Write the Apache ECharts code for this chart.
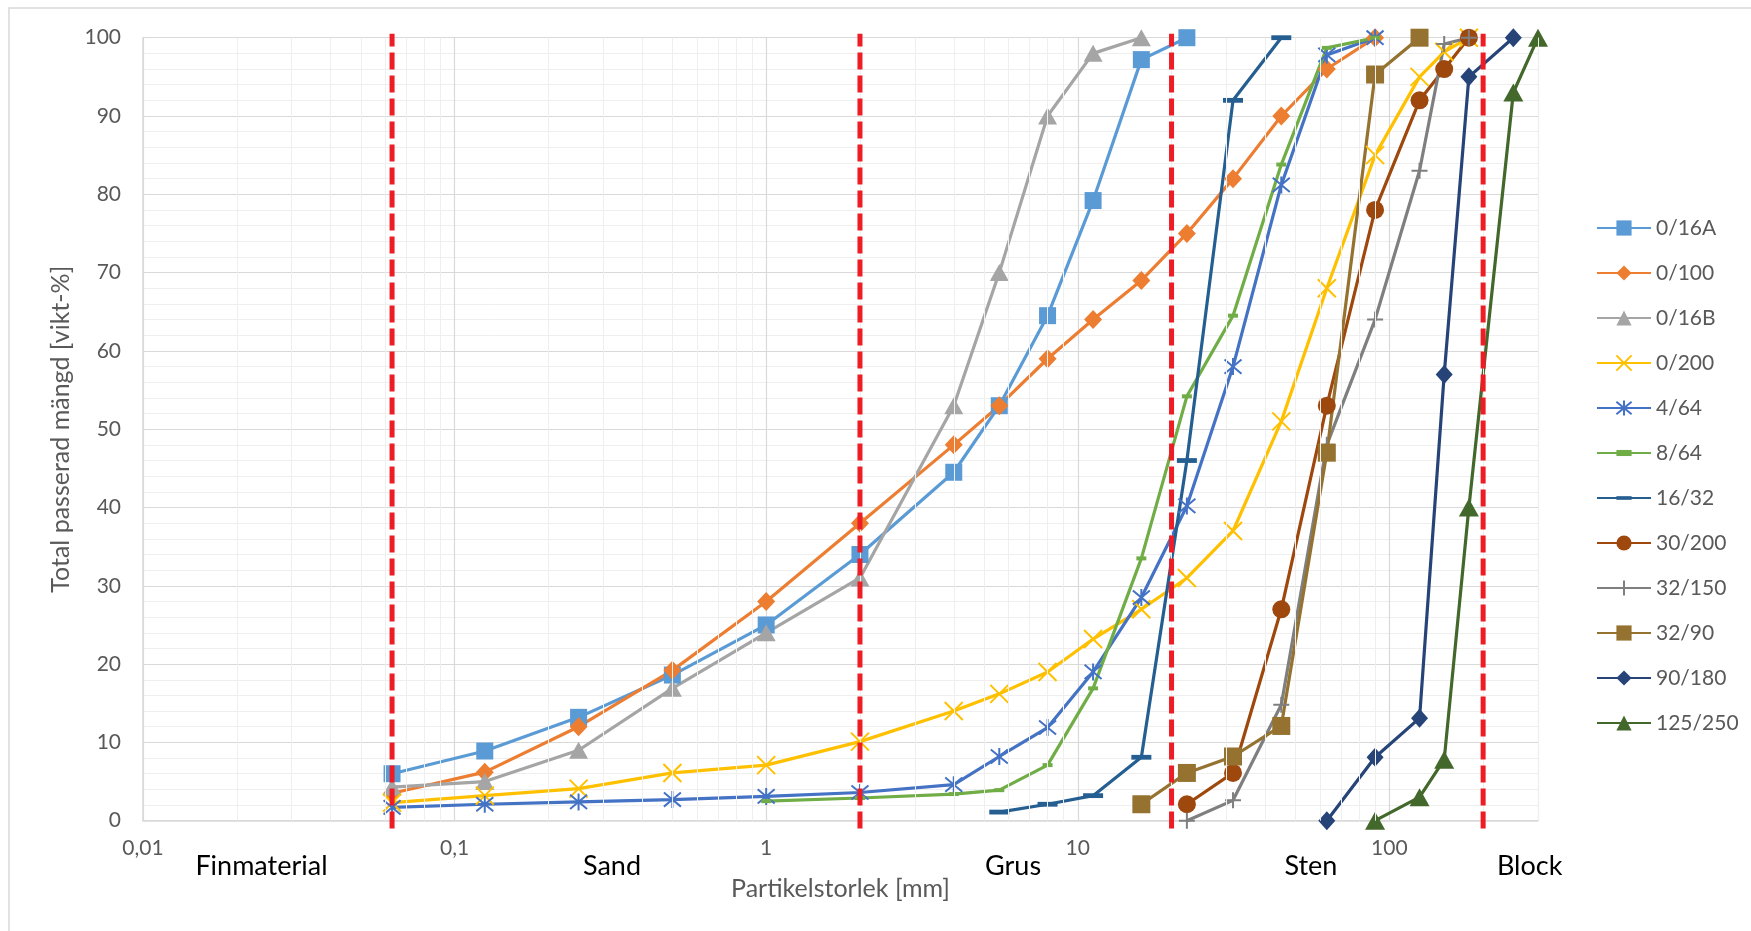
<!DOCTYPE html>
<html>
<head>
<meta charset="utf-8">
<script src="https://cdn.jsdelivr.net/npm/echarts@6/dist/echarts.min.js"></script>
<style>
  html, body { margin: 0; padding: 0; background: #ffffff; }
  #chart { width: 1751px; height: 931px; }
</style>
</head>
<body>
<div id="chart"></div>
<script>
// Sieve sizes in mm (shared x positions of all grading curves)
const sieveSizes = [0.063, 0.125, 0.25, 0.5, 1, 2, 4, 5.6, 8, 11.2, 16, 22.4, 31.5, 45, 63, 90, 125, 150, 180, 250, 300];

// Total passing (weight-%) per sieve; null = not measured on that sieve
const pass_0_16A  = [6, 8.9, 13.2, 18.6, 25, 34, 44.5, 53, 64.5, 79.2, 97.2, 100, null, null, null, null, null, null, null, null, null];
const pass_0_100  = [3.5, 6.2, 12, 19.2, 28, 38, 48, 53, 59, 64, 69, 75, 82, 90, 96, 100, null, null, null, null, null];
const pass_0_16B  = [4.3, 5, 9, 16.9, 24, 31, 53, 70, 90, 98, 100, null, null, null, null, null, null, null, null, null, null];
const pass_0_200  = [2.3, 3.2, 4.1, 6.1, 7.1, 10.1, 14, 16.2, 19, 23.2, 27, 31, 37, 51, 68, 85, 95, 98.2, 100, null, null];
const pass_4_64   = [1.7, 2.1, 2.4, 2.7, 3.1, 3.6, 4.6, 8.2, 11.9, 19, 28.5, 40.2, 58, 81.2, 97.8, 100, null, null, null, null, null];
const pass_8_64   = [null, null, null, null, 2.5, 2.9, 3.4, 3.9, 7.1, 16.9, 33.5, 54.2, 64.5, 83.8, 98.7, 100, null, null, null, null, null];
const pass_16_32  = [null, null, null, null, null, null, null, 1.1, 2.1, 3.2, 8.1, 46, 92, 100, null, null, null, null, null, null, null];
const pass_30_200 = [null, null, null, null, null, null, null, null, null, null, null, 2.1, 6.1, 27, 53, 78, 92, 96, 100, null, null];
const pass_32_150 = [null, null, null, null, null, null, null, null, null, null, null, 0, 2.6, 14.8, 48, 64, 83, 99.2, 100, null, null];
const pass_32_90  = [null, null, null, null, null, null, null, null, null, null, 2.1, 6.1, 8.2, 12.1, 47, 95.3, 100, null, null, null, null];
const pass_90_180 = [null, null, null, null, null, null, null, null, null, null, null, null, null, null, 0, 8.1, 13.1, 57, 95, 100, null];
const pass_125_250= [null, null, null, null, null, null, null, null, null, null, null, null, null, null, null, 0, 3, 7.8, 40, 93, 100];

const seriesNames = ['0/16A', '0/100', '0/16B', '0/200', '4/64', '8/64', '16/32', '30/200', '32/150', '32/90', '90/180', '125/250'];
const seriesValues = [pass_0_16A, pass_0_100, pass_0_16B, pass_0_200, pass_4_64, pass_8_64, pass_16_32, pass_30_200, pass_32_150, pass_32_90, pass_90_180, pass_125_250];

// Fraction boundaries (mm) and the fraction names written under the axis
const boundaries = [0.063, 2, 20, 200];
const fractionNames = ['Finmaterial', 'Sand', 'Grus', 'Sten', 'Block'];
const fractionLabelAt = [0.024, 0.32, 6.2, 56, 282];

// Axis tick labels
const yTicks = [0, 10, 20, 30, 40, 50, 60, 70, 80, 90, 100];

const FONT = 'Lato, Carlito, Calibri, sans-serif';
const colors = ['#5B9BD5', '#ED7D31', '#A5A5A5', '#FFC000', '#4472C4', '#70AD47',
                '#255E91', '#9E480E', '#7F7F7F', '#957230', '#264478', '#43682B'];

// Marker look for each curve
const markerStyles = [
  { symbol: 'rect', size: 17, stroke: false },
  { symbol: 'diamond', size: [18, 19], stroke: false },
  { symbol: 'triangle', size: [19, 17], stroke: false },
  { symbol: 'path://M0,0L10,10M10,0L0,10', size: 18, stroke: true },
  { symbol: 'path://M0,0L10,10M10,0L0,10M5,-1L5,11', size: 17, stroke: true },
  { symbol: 'path://M0,0L0,0M0,3L10,3L10,7L0,7ZM10,10L10,10', size: 10, stroke: false },
  { symbol: 'path://M0,0L0,0M0,7.6L20,7.6L20,12.4L0,12.4ZM20,20L20,20', size: 20, stroke: false },
  { symbol: 'circle', size: 18, stroke: false },
  { symbol: 'path://M5,0L5,10M0,5L10,5', size: 16, stroke: true },
  { symbol: 'rect', size: 18, stroke: false },
  { symbol: 'diamond', size: [17, 19], stroke: false },
  { symbol: 'triangle', size: [20, 18], stroke: false }
];

// Light minor gridlines at 2..9 x each decade
const minorX = [];
[0.01, 0.1, 1, 10, 100].forEach(function (d) {
  for (let k = 2; k <= 9; k++) {
    const v = +(k * d).toPrecision(6);
    if (v <= 300) minorX.push(v);
  }
});

const curveSeries = seriesNames.map(function (name, i) {
  const m = markerStyles[i];
  const pts = [];
  seriesValues[i].forEach(function (v, j) {
    if (v !== null) pts.push([sieveSizes[j], v]);
  });
  return {
    name: name,
    type: 'line',
    data: pts,
    z: 3,
    symbol: m.symbol,
    symbolSize: m.size,
    showAllSymbol: true,
    lineStyle: { color: colors[i], width: 3.2 },
    itemStyle: { color: colors[i], borderColor: colors[i], borderWidth: m.stroke ? 2 : 0 },
    emphasis: { disabled: true },
    animation: false
  };
});

const boundarySeries = boundaries.map(function (b) {
  return {
    type: 'line',
    data: [[b, -1], [b, 100.5]],
    clip: false,
    symbol: 'none',
    silent: true,
    z: 5,
    lineStyle: { color: '#EE1C25', width: 5, type: [17, 6] },
    emphasis: { disabled: true },
    animation: false
  };
});

const gridSeries = {
  type: 'line',
  data: [],
  silent: true,
  z: 1,
  animation: false,
  markLine: {
    silent: true,
    symbol: ['none', 'none'],
    label: { show: false },
    animation: false,
    emphasis: { disabled: true },
    lineStyle: { color: '#EFEFEF', width: 1, type: 'solid' },
    data: minorX.map(function (v) { return { xAxis: v }; })
  }
};

function isDecade(v) {
  const l = Math.log10(v);
  return Math.abs(l - Math.round(l)) < 1e-6;
}

const chart = echarts.init(document.getElementById('chart'));

chart.setOption({
  backgroundColor: '#ffffff',
  animation: false,
  grid: { left: 143, right: 213, top: 37.7, bottom: 110.3, containLabel: false, outerBoundsMode: 'none' },
  xAxis: {
    type: 'log',
    logBase: 10,
    min: 0.01,
    max: 300,
    name: 'Partikelstorlek [mm]',
    nameLocation: 'middle',
    nameGap: 56,
    nameTextStyle: { fontFamily: FONT, fontSize: 25, color: '#595959' },
    axisLine: { show: true, onZero: false, lineStyle: { color: '#D9D9D9', width: 1.5 } },
    axisTick: { show: false },
    axisLabel: {
      margin: 17,
      fontFamily: FONT,
      fontSize: 21,
      color: '#595959',
      formatter: function (v) { return isDecade(v) ? String(v).replace('.', ',') : ''; }
    },
    splitLine: { show: true, lineStyle: { color: '#D9D9D9', width: 1.2 } },
    minorTick: { show: false },
    minorSplitLine: { show: false }
  },
  yAxis: {
    type: 'value',
    min: yTicks[0],
    max: yTicks[yTicks.length - 1],
    interval: 10,
    name: 'Total passerad mängd [vikt-%]',
    nameLocation: 'middle',
    nameGap: 69,
    nameTextStyle: { fontFamily: FONT, fontSize: 25, color: '#595959' },
    axisLine: { show: true, onZero: false, lineStyle: { color: '#D9D9D9', width: 1.5 } },
    axisTick: { show: false },
    axisLabel: { margin: 22, fontFamily: FONT, fontSize: 21, color: '#595959' },
    splitLine: { show: true, lineStyle: { color: '#D9D9D9', width: 1.2 } },
    minorTick: { show: false, splitNumber: 5 },
    minorSplitLine: { show: true, lineStyle: { color: '#EFEFEF', width: 1 } }
  },
  legend: {
    orient: 'vertical',
    left: 1591,
    top: 211,
    itemWidth: 54,
    itemHeight: 19,
    itemGap: 21,
    selectedMode: false,
    textStyle: { fontFamily: FONT, fontSize: 21, lineHeight: 24, color: '#595959' },
    data: seriesNames
  },
  series: [gridSeries].concat(curveSeries, boundarySeries)
});

// Fraction names placed under the axis at their particle sizes, plus the chart frame
const labels = fractionNames.map(function (n, i) {
  return {
    type: 'text',
    silent: true,
    x: chart.convertToPixel({ xAxisIndex: 0 }, fractionLabelAt[i]),
    y: 866,
    style: {
      text: n,
      fill: '#000000',
      fontFamily: FONT,
      fontSize: 27,
      align: 'center',
      verticalAlign: 'middle'
    }
  };
});

chart.setOption({
  graphic: [{
    type: 'rect',
    silent: true,
    z: -1,
    shape: { x: 9, y: 8, width: 1800, height: 1000 },
    style: { fill: 'none', stroke: '#D9D9D9', lineWidth: 1.5 }
  }].concat(labels)
});
</script>
</body>
</html>
